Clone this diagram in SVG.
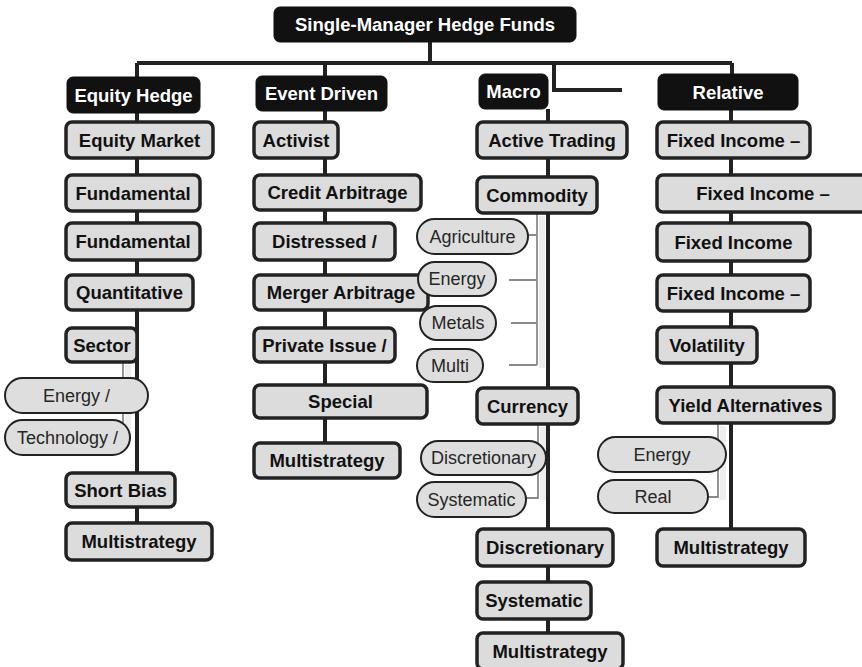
<svg xmlns="http://www.w3.org/2000/svg" width="862" height="667" viewBox="0 0 862 667">
<style>
.hdr rect{fill:#111;stroke:#111;stroke-width:1}
.hdr text{fill:#fff;font-family:"Liberation Sans",Arial,sans-serif;font-weight:bold;font-size:18.5px;text-anchor:middle}
.box rect{fill:#dcdcdc;stroke:#222;stroke-width:3.5}
.box text{fill:#111;font-family:"Liberation Sans",Arial,sans-serif;font-weight:bold;font-size:18.5px;text-anchor:middle}
.pill rect{fill:#dedede;stroke:#222;stroke-width:2}
.pill text{fill:#262626;font-family:"Liberation Sans",Arial,sans-serif;font-size:18px;text-anchor:middle}
.main{stroke:#222;stroke-width:4;fill:none}
.sub{stroke:#8a8a8a;stroke-width:1.8;fill:none}
.shade{stroke:#000;stroke-opacity:0.07;stroke-width:6;fill:none}
</style>
<rect width="862" height="667" fill="#fff"/>
<g id="connectors">
<path class="main" d="M430 42V63M137 63H732M137 63V77M325 63V76M554 63V90H622M732 63V74"/>
<path class="main" d="M137 113V523M325 111V443M548 109V633M731 110V529"/>
<path class="shade" d="M128 365V437M542 216V368M543 427V500M723 426V500"/>
<path class="sub" d="M123 362V437"/>
<path class="sub" d="M537 213V365M528 235H537M509 280H537M511 323H537M509 365H537"/>
<path class="sub" d="M538 424V498H526"/>
<path class="sub" d="M718 423V497H708"/>
</g>
<g id="n-root" class="hdr"><rect x="274" y="7" width="302" height="35" rx="6"/><text x="425" y="31">Single-Manager Hedge Funds</text></g>
<g id="n-eh" class="hdr"><rect x="67" y="77" width="133" height="36" rx="6"/><text x="133.5" y="101.5">Equity Hedge</text></g>
<g id="n-ed" class="hdr"><rect x="256" y="76" width="131" height="35" rx="6"/><text x="321.5" y="100">Event Driven</text></g>
<g id="n-mac" class="hdr"><rect x="479" y="74" width="69" height="35" rx="6"/><text x="513.5" y="98">Macro</text></g>
<g id="n-rel" class="hdr"><rect x="658" y="74" width="140" height="36" rx="6"/><text x="728" y="98.5">Relative</text></g>

<g id="n-eh1" class="box"><rect x="66" y="122" width="147" height="36" rx="6"/><text x="139.5" y="146.5">Equity Market</text></g>
<g id="n-eh2" class="box"><rect x="66" y="175" width="134" height="36" rx="6"/><text x="133" y="199.5">Fundamental</text></g>
<g id="n-eh3" class="box"><rect x="66" y="223" width="134" height="37" rx="6"/><text x="133" y="248">Fundamental</text></g>
<g id="n-eh4" class="box"><rect x="66" y="275" width="127" height="35" rx="6"/><text x="129.5" y="299">Quantitative</text></g>
<g id="n-eh5" class="box"><rect x="66" y="328" width="71" height="34" rx="6"/><text x="102" y="351.5">Sector</text></g>
<g id="n-eh5a" class="pill"><rect x="5" y="378" width="143" height="35" rx="17.5"/><text x="76.5" y="401.5">Energy /</text></g>
<g id="n-eh5b" class="pill"><rect x="5" y="420" width="125" height="35" rx="17.5"/><text x="67.5" y="443.5">Technology /</text></g>
<g id="n-eh6" class="box"><rect x="66" y="473" width="109" height="34" rx="6"/><text x="120.5" y="496.5">Short Bias</text></g>
<g id="n-eh7" class="box"><rect x="66" y="523" width="146" height="37" rx="6"/><text x="139" y="548">Multistrategy</text></g>

<g id="n-ed1" class="box"><rect x="254" y="122" width="84" height="36" rx="6"/><text x="296" y="146.5">Activist</text></g>
<g id="n-ed2" class="box"><rect x="254" y="175" width="167" height="35" rx="6"/><text x="337.5" y="199">Credit Arbitrage</text></g>
<g id="n-ed3" class="box"><rect x="254" y="223" width="141" height="37" rx="6"/><text x="324.5" y="248">Distressed /</text></g>
<g id="n-ed4" class="box"><rect x="254" y="275" width="174" height="35" rx="6"/><text x="341" y="299">Merger Arbitrage</text></g>
<g id="n-ed5" class="box"><rect x="254" y="328" width="141" height="34" rx="6"/><text x="324.5" y="351.5">Private Issue /</text></g>
<g id="n-ed6" class="box"><rect x="254" y="385" width="173" height="33" rx="6"/><text x="340.5" y="408">Special</text></g>
<g id="n-ed7" class="box"><rect x="254" y="443" width="146" height="35" rx="6"/><text x="327" y="467">Multistrategy</text></g>

<g id="n-m1" class="box"><rect x="477" y="122" width="150" height="36" rx="6"/><text x="552" y="146.5">Active Trading</text></g>
<g id="n-m2" class="box"><rect x="477" y="177" width="120" height="36" rx="6"/><text x="537" y="201.5">Commodity</text></g>
<g id="n-m2a" class="pill"><rect x="417" y="219" width="111" height="35" rx="17.5"/><text x="472.5" y="242.5">Agriculture</text></g>
<g id="n-m2b" class="pill"><rect x="418" y="262" width="78" height="34" rx="17"/><text x="457" y="285">Energy</text></g>
<g id="n-m2c" class="pill"><rect x="420" y="306" width="76" height="34" rx="17"/><text x="458" y="329">Metals</text></g>
<g id="n-m2d" class="pill"><rect x="417" y="349" width="66" height="33" rx="16.5"/><text x="450" y="371.5">Multi</text></g>
<g id="n-m3" class="box"><rect x="477" y="388" width="101" height="36" rx="6"/><text x="527.5" y="412.5">Currency</text></g>
<g id="n-m3a" class="pill"><rect x="421" y="441" width="125" height="34" rx="17"/><text x="483.5" y="464">Discretionary</text></g>
<g id="n-m3b" class="pill"><rect x="417" y="482" width="109" height="35" rx="17.5"/><text x="471.5" y="505.5">Systematic</text></g>
<g id="n-m4" class="box"><rect x="477" y="529" width="136" height="37" rx="6"/><text x="545" y="554">Discretionary</text></g>
<g id="n-m5" class="box"><rect x="477" y="582" width="114" height="37" rx="6"/><text x="534" y="607">Systematic</text></g>
<g id="n-m6" class="box"><rect x="477" y="633" width="146" height="36" rx="6"/><text x="550" y="657.5">Multistrategy</text></g>

<g id="n-r1" class="box"><rect x="657" y="122" width="153" height="36" rx="6"/><text x="733.5" y="146.5">Fixed Income –</text></g>
<g id="n-r2" class="box"><rect x="657" y="175" width="213" height="37" rx="6"/><text x="763" y="200">Fixed Income –</text></g>
<g id="n-r3" class="box"><rect x="657" y="223" width="153" height="38" rx="6"/><text x="733.5" y="248.5">Fixed Income</text></g>
<g id="n-r4" class="box"><rect x="657" y="275" width="153" height="36" rx="6"/><text x="733.5" y="299.5">Fixed Income –</text></g>
<g id="n-r5" class="box"><rect x="657" y="327" width="100" height="36" rx="6"/><text x="707" y="351.5">Volatility</text></g>
<g id="n-r6" class="box"><rect x="657" y="387" width="177" height="36" rx="6"/><text x="745.5" y="411.5">Yield Alternatives</text></g>
<g id="n-r6a" class="pill"><rect x="598" y="437" width="128" height="35" rx="17.5"/><text x="662" y="460.5">Energy</text></g>
<g id="n-r6b" class="pill"><rect x="598" y="480" width="110" height="33" rx="16.5"/><text x="653" y="502.5">Real</text></g>
<g id="n-r7" class="box"><rect x="657" y="529" width="148" height="37" rx="6"/><text x="731" y="554">Multistrategy</text></g>
</svg>
